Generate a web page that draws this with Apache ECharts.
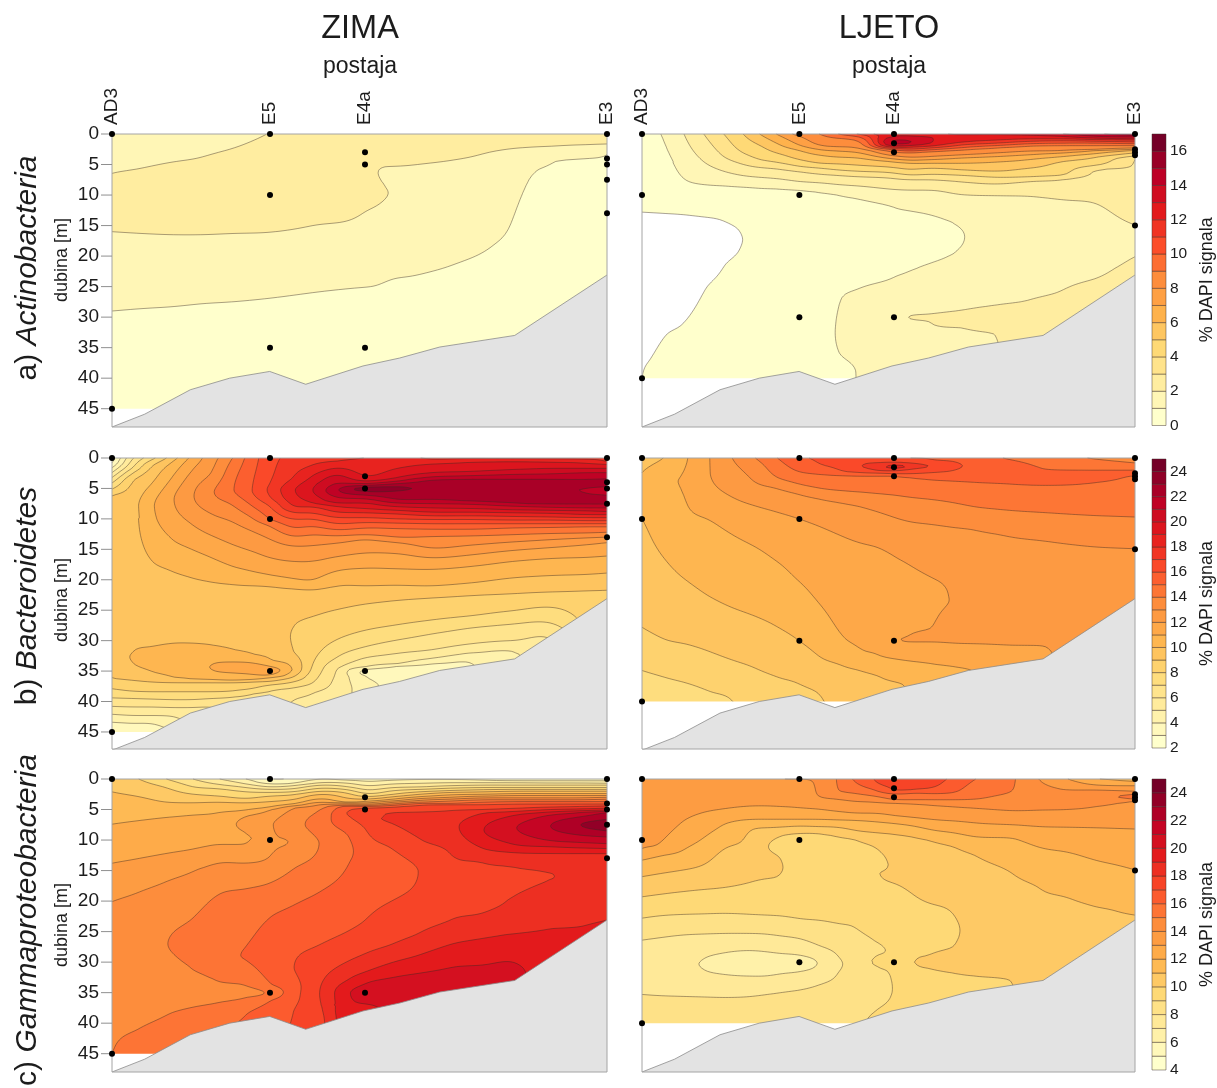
<!DOCTYPE html>
<html><head><meta charset="utf-8"><style>html,body{margin:0;background:#fff}#c{width:1217px;height:1088px}</style>
<script src="https://cdn.jsdelivr.net/npm/echarts@6/dist/echarts.min.js"></script></head><body><div id="c"></div>
<script>
const stationX=[0,158,253,495];
const stationNames=['AD3','E5','E4a','E3'];
const depthTicks=[0,5,10,15,20,25,30,35,40,45];
const terrain=[[0,48],[32.7,45.9],[78.3,41.9],[117.7,40],[157.7,38.9],[193.7,41],[251,38],[287.7,36.7],[327.7,34.9],[402.7,33],[495,23.1]];
const samplesWinter=[[0,0],[0,45],[158,0],[158,10],[158,35],[253,3],[253,5],[253,35],[495,0],[495,4],[495,5],[495,7.5],[495,13]];
const samplesSummer=[[0,0],[0,10],[0,40],[158,0],[158,10],[158,30],[253,0],[253,1.5],[253,3],[253,30],[495,0],[495,2.5],[495,3],[495,3.5],[495,15]];

// Profiles: station-line position, then depth/value pairs.
const actWinter=[
[0,[0,1.7,6.45,2,10,2.4,16,2,29,1,45,.5,48,.4]],
[30,[0,1.65,5.6,2,10,2.45,16.3,2,28.6,1,48,.4]],
[60,[0,1.6,4.6,2,10,2.5,16.5,2,28.3,1,48,.4]],
[90,[0,1.7,3.8,2,10,2.6,16.5,2,27.8,1,48,.4]],
[120,[0,1.8,2.4,2,9,2.7,16.3,2,27.5,1,48,.4]],
[158,[0,2.02,10,2.7,16.1,2,26.9,1,48,.4]],
[200,[0,2.3,8,2.7,15,2,26,1,48,.4]],
[253,[0,2.5,5,2.45,12.8,2,25.1,1,48,.4]],
[262,[0,2.45,5.5,2.01,9,2.3,12,2,25,1,48,.4]],
[270,[0,2.4,5.4,2,6.5,1.9,8,2,9.5,2.1,11.3,2,24.5,1,48,.4]],
[275,[0,2.35,5.35,2,7,1.8,9.7,2.01,12.5,1.8,24,1,48,.4]],
[300,[0,2.3,5.1,2,12,1.6,23.3,1,48,.4]],
[340,[0,2.3,4.3,2,12,1.5,21.5,1,48,.4]],
[380,[0,2.3,2.9,2,12,1.4,18.4,1,48,.4]],
[400,[0,2.3,2.4,2,8,1.3,14.3,1,48,.4]],
[415,[0,2.3,2.2,2,6,1.1,7.5,1,20,.7,48,.4]],
[440,[0,2.3,2,2,4.5,1,48,.4]],
[495,[0,2.3,1.65,2,3.3,1,48,.5]]];
const actSummer=[
[0,[0,.7,8,.5,12.8,0,20,-.5,30,-.4,38,-.05,40,0,48,.1]],
[10,[0,.85,8,.55,12.9,0,22,-.5,30,-.3,36.8,0,40,.2,48,.2]],
[21,[0,1,6,.6,13,0,23,-.5,33.2,0,40,.3,48,.3]],
[42,[0,2,7.5,1,13.2,0,22,-.5,31.2,0,40,.4,48,.4]],
[62,[0,3,4.5,2,8.3,1,13.6,0,19,-.4,25.5,0,40,.5,48,.5]],
[82,[0,4,3.7,3,6.1,2,8.5,1,14.2,0,18,-.2,21.6,0,40,.55,48,.55]],
[100,[0,4.9,3,4,4.9,3,6.8,2,8.7,1,13,.3,16,0,17.3,-.05,18.7,0,24,.3,40,.6,48,.6]],
[118,[0,6,1.8,5,4.2,4,5.5,3,7.1,2,8.9,1,17,.4,40,.65,48,.65]],
[135,[0,7,1.5,6,3.1,5,4.6,4,5.7,3,7.3,2,9,1,25,.4,40,.7,48,.7]],
[158,[0,8.4,.4,8,1.8,7,2.7,6,4.2,5,5.3,4,6.2,3,7.8,2,9.2,1,20,.4,30,.4,40,.8,48,.8]],
[179,[0,9,1.9,8,2.6,7,3.5,6,4.8,5,5.6,4,6.6,3,8,2,9.6,1,20,.3,30,.5,40,.85,48,.85]],
[197,[0,10,.7,9,2.1,8,2.8,7,3.8,6,4.9,5,5.9,4,6.8,3,8.3,2,10,1,20,.4,27.2,1,32,1.1,35.7,1,39,.85,48,.85]],
[216,[0,11,.4,10,1,9,2.2,8,3,7,3.9,6,5.1,5,6.1,4,7,3,8.5,2,10.6,1,18,.3,25.5,1,32,1.4,39,1.01,48,1]],
[253.6,[0,12.9,.3,13,.9,14,1.3,14.4,1.75,14,2,13,2.2,12,2.4,11,2.6,10,3,9,3.6,8,4.1,7,4.6,6,5.5,5,6.4,4,7.3,3,9.1,2,12.1,1,17.5,.8,23.4,1,30,1.9,36,1.5,48,1.4]],
[266,[0,12.95,.4,13,1,14,1.3,14.2,1.6,14,1.9,13,2.2,12,2.5,11,2.8,10,3.1,9,3.8,8,4.3,7,4.8,6,5.8,5,6.7,4,7.5,3,9.2,2,12.5,1,17.5,.7,22.8,1,27,1.6,30,2,33,1.6,37,1.4,48,1.4]],
[289,[0,12.9,1.2,13.1,1.5,13,2,12,2.3,11,2.6,10,2.9,9,3.7,8,4.2,7,4.8,6,5.6,5,6.6,4,7.5,3,9.2,2,13.2,1,17.5,.6,21.2,1,25,1.6,29.5,2,30.1,2.05,30.7,2,33,1.9,36,1.6,48,1.5]],
[324,[0,13.1,1.3,12,1.75,11,2.2,10,2.6,9,3.4,8,3.9,7,4.8,6,5.9,5,6.8,4,7.9,3,10,2,16.8,1,25,1.7,28.8,2,31,2.3,31.8,2,36,1.8,48,1.8]],
[356,[0,13.1,1,12,1.5,11,1.9,10,2.3,9,3.1,8,3.7,7,4.6,6,6.1,5,7.1,4,8.2,3,10.1,2,18,1.4,25,1.8,28,2,31,2.5,32.9,2,48,1.8]],
[389,[0,13.4,.2,13,.8,12,1.2,11,1.6,10,2,9,2.8,8,3.4,7,4.2,6,5.6,5,7,4,7.8,3,10.2,2,18,1.5,27.2,2,32,2.6,48,2.6]],
[423,[0,14,.4,13,.8,12,1.1,11,1.5,10,1.9,9,2.7,8,3.1,7,3.7,6,4.5,5,6.7,4,7.5,3,10.8,2,20,1.5,25.6,2,30,2.5,48,2.6]],
[457,[0,14.8,.4,14,.7,13,.9,12,1.2,11,1.5,10,1.9,9,2.5,8,2.7,7,3.2,6,3.8,5,5.1,4,5.9,3,11.4,2,20,1.5,23.6,2,27,2.6,48,2.6]],
[495,[0,15.9,.2,15,.5,14,.8,13,1,12,1.3,11,1.6,10,1.9,9,2.3,8,2.5,7,2.7,6,3.1,5,3.6,4,4.2,3,8,2.8,14.9,2,17.6,1.5,20.1,2,23.1,2.5,48,2.5]]];
const bacWinter=[
[0,[0,2.5,.8,3,1.6,4,2.4,5,3.2,6,4.1,7,5.1,8,6.2,9,13,9.8,25,9.6,36.1,9,37.9,8,39.4,7,40.8,6,42.1,5,43.4,4,45,3.3,48,2.8]],
[20,[0,5.9,1.6,7,2.5,8,3.8,9,8,9.6,15,9.7,25,9.8,31.6,10,32.7,10.1,33.7,10,36.5,9,38.3,8,39.5,7,40.9,6,42.3,5,43.6,4,48,2.8]],
[40,[0,7.7,1.3,9,4.3,10,7.9,10.9,17,10,24,9.6,31,10,33,10.3,35.1,10,36.8,9,38.4,8,39.6,7,40.9,6,42.3,5,43.6,4,48,2.8]],
[60,[0,9.5,.7,10,3.2,11,6.8,11.9,13.4,11,18.6,10,24,9.7,30.4,10,33,10.4,36,10,36.9,9,38.4,8,39.7,7,41,6,42.4,5,48,3]],
[80,[0,11.3,1.9,12,6.3,12.9,10.9,12,15,11,19.7,10,25,9.7,30.4,10,33,10.5,36.3,10,36.9,9,38.4,8,39.7,7,41,6,48,4]],
[100,[0,12.6,2.4,13,5.7,13.9,9.3,13,12.8,12,16.4,11,20.4,10,25,9.7,30.7,10,33.8,11,34.4,11.1,34.9,11,36.4,10,36.9,9,38.4,8,39.5,7,40.9,6,48,4]],
[120,[0,13.9,.2,14,5.2,14.9,7.6,14,10.4,13,14.2,12,17.8,11,20.8,10,26,9.7,31.4,10,33.5,11,34.3,11.4,35.3,11,36.5,10,36.9,9,38.3,8,39.3,7,48,5]],
[140,[0,15.6,5.4,15.97,7.9,15,9.8,14,12,13,15.3,12,18.6,11,21,10,27,9.7,32.2,10,33.6,11,34.4,11.5,35.5,11,36.4,10,36.8,9,37.9,8,38.7,7,48,6]],
[158,[0,16.6,4.1,17,5.2,17.2,6.3,17,7.9,16,10,15,11.2,14,13.3,13,16.4,12,19.2,11,21.1,10,27,9.6,33.1,10,34.2,11,34.9,11.6,35.7,11,36.1,10,36.7,9,37.3,8,38.3,7,48,6]],
[181,[0,17.4,3.2,18,5.3,18.9,8,18,9,17,10.1,16,11.5,15,12.9,14,14.5,13,17,12,19.8,11,21.5,10,24,9.5,27.5,9,29.4,8.9,31.6,9,34.7,9.95,36,9,36.8,8,37.8,7,39.7,6,48,5]],
[200,[0,17.7,1.2,18,3,19,5.2,19.9,7.3,19,8,18,9,17,10,16,11.2,15,12.6,14,14.4,13,17,12,20.1,11,21.7,10,26.1,9,34,8,37,7,38.7,6,48,5]],
[225,[0,17.9,.5,18,1.6,19,2.7,20,4.1,21,5.3,21.9,6.5,21,7.4,20,8,19,8.9,18,9.8,17,10.8,16,11.8,15,12.8,14,14,13,16.2,12,18.5,11,21,10,24.9,9,29.8,8,32.7,7,34.9,6,40,5.5,48,5.5]],
[253,[0,18,.2,18.05,3,19,3.8,20,4.2,21,4.5,22,4.8,23,5.1,23.6,5.5,23,6.1,22,6.7,21,7.4,20,8.3,19,9,18,9.8,17,10.6,16,11.5,15,12.6,14,13.4,13,15.6,12,18.1,11,21,10,24,9,28.3,8,31,7,32.8,6,34.3,5,34.7,4,35.3,3.7,35.9,4,38,4.5,48,4.5]],
[285,[0,18.2,1.7,19,3.2,20,3.8,21,4.2,22,4.7,23,5,23.2,5.4,23,6.8,22,7.4,21,8,20,8.6,19,9.2,18,10,17,10.7,16,11.6,15,13,14,13.9,13,15.7,12,18.2,11,20.9,10,23.4,9,27.4,8,29.9,7,32.1,6,33.8,5,34.2,4,35.2,3.6,48,3.6]],
[320,[0,17.9,.2,18,1,19,2.4,20,3.1,21,3.6,22,5.4,22.8,6.8,22,7.5,21,8.2,20,8.9,19,9.5,18,10.1,17,10.8,16,11.7,15,12.9,14,14.8,13,16.4,12,18.3,11,21,10,23,9,26.6,8,28.9,7,31.5,6,32.9,5,33.8,4,34.9,3.6,48,3.6]],
[360,[0,17.9,.1,18,.7,19,2.2,20,2.9,21,3.5,22,5.4,22.7,7.1,22,7.6,21,8.3,20,8.9,19,9.5,18,10.1,17,10.8,16,11.7,15,12.8,14,14.3,13,15.9,12,17.8,11,20.5,10,22.6,9,25.9,8,27.9,7,30.5,6,32,5,33.6,4,48,3.6]],
[400,[0,17.8,.1,18,.6,19,1.9,20,2.7,21,3.5,22,5.2,22.6,7.4,22,7.9,21,8.5,20,9,19,9.6,18,10.2,17,10.8,16,11.5,15,12.6,14,13.8,13,15.2,12,17,11,19.7,10,22.3,9,25.1,8,27.3,7,30,6,31.7,5,48,4]],
[440,[0,17.7,.1,18,.7,19,1.7,20,2.6,21,3.5,22,4.3,22.4,5.4,22.5,7.6,22,8.1,21,8.6,20,9.1,19,9.7,18,10.2,17,10.8,16,11.4,15,12.4,14,13.4,13,14.7,12,16.5,11,19.3,10,22,9,24.5,8,27.1,7,29.8,6,48,5]],
[478,[0,17.7,.2,18,.9,19,1.7,20,2.4,21,3.5,22,4.2,22.3,4.9,22,5.3,21.8,5.9,22,6.7,22.3,7.6,22,8.2,21,8.7,20,9.3,19,9.8,18,10.3,17,10.8,16,11.3,15,12.3,14,13.1,13,14.2,12,16.3,11,19.1,10,21.8,9,48,7]],
[495,[0,17.7,.6,18,1.05,19,1.7,20,2.4,21,3.4,22,4,22.3,4.7,22,5.4,21.6,6.1,22,7,22.3,7.6,22,8.2,21,8.8,20,9.3,19,9.8,18,10.3,17,10.8,16,11.3,15,12.2,14,13,13,13.9,12,16.1,11,18.9,10,21.7,9,48,8.5]]];
const bacSummer=[
[0,[0,9.5,2.4,10,6.3,10.6,10,10,20,9.5,27.8,9,34.9,8,40,7.4,48,7]],
[22,[0,10,4,10.9,10,10.5,16.4,10,29.8,9,36,8,40,7.6,48,7]],
[46,[0,11,3,11.1,7.6,11,20.3,10,30.6,9,37,8,40,7.7,48,7.4]],
[68,[0,12,2.4,12,6,11.7,10.1,11,22.8,10,31.8,9,38.4,8,48,7.4]],
[90.5,[0,13,3,12.6,6.4,12,12.6,11,24.6,10,33.2,9,39.5,8,48,7.5]],
[114,[0,14,1.5,13.5,4,13,7.9,12,14.6,11,26,10,34.6,9,48,8]],
[135.7,[0,15,3.2,14,5,13,8.9,12,17,11,27.7,10,36,9,48,8.5]],
[157.8,[0,15.8,2.3,15,4.3,14,6,13,10,12,20.3,11,30,10,37,9,48,8.5]],
[179,[0,16.2,1,16,2.7,15,5,14,6.8,13,11.3,12,24.1,11,32.8,10,38.7,9,48,8.5]],
[202.7,[0,16.7,2.2,16,2.9,15,5.4,14,7.5,13,13,12,29.6,11,34.2,10,40,9.5,48,9.5]],
[219.4,[0,16.9,1.3,16.98,2.4,16,3,15,5.6,14,8,13,14,12,31.6,11,34.9,10,39,9.6,48,9.5]],
[239.5,[0,16.9,.8,17,1.4,17.6,2.1,17,2.5,16,3,15,5.9,14,9,13,14.8,12,32.4,11,36,10,48,9.5]],
[253.6,[0,16.5,.7,17,1.1,18,1.4,18.6,1.8,18,2.1,17,2.6,16,3,15,6.1,14,9.8,13,16.2,12,24,11.6,30,11.9,33,11,36.8,10,48,9.5]],
[266,[0,16,.3,16.9,.8,17,1.1,17.6,1.4,17.9,1.9,17,2.6,16,3.2,15,6.4,14,10.4,13,17.3,12,25,11.6,29.4,12,29.8,12.1,30.2,12,31.5,11.5,33.3,11,37.3,10,48,9.8]],
[290,[0,15.9,.3,16,1.3,16.9,2.4,16,3.6,15,6.8,14,10.9,13,19.6,12,24,11.7,28,12,29,12.3,30.2,12,32,11.5,33.8,11,48,10.2]],
[311.5,[0,15.7,.5,16,1.3,16.3,2.1,16,3.8,15,7.3,14,11.4,13,23.3,12.05,27,12.5,30.4,12,34.2,11,48,10.5]],
[333,[0,15.4,1.3,15.7,4,15,8,14,11.8,13,20,12.6,28,12.6,30.5,12,34.9,11,48,10.5]],
[362,[0,15,1.9,15.5,4.2,15,8.5,14,12.7,13,23,12.6,30.7,12,33,11.5,48,11]],
[407,[0,14.6,1.9,15,3.3,15.4,4.5,15,9,14,13.7,13,25,12.5,31,12,48,11.5]],
[447,[0,14,2,15,3.3,15.3,4.2,15,9.4,14,14.5,13,26,12.5,48,12]],
[495,[0,13.5,.8,14,2,15,2.4,15.6,2.9,15,9.7,14,14.9,13,23,12.5,48,12]]];
const gamWinter=[
[0,[0,10.4,2.1,11,7.4,12,13.8,13,20.1,14,30,14.7,40,14.85,45,15,48,15.3]],
[27.7,[0,10,2.9,11,6.8,12,13,13,18.5,14,28,14.8,36,14.75,40.9,15,45,15.5,48,15.6]],
[54.3,[0,9,1.4,10,3.8,11,6.3,12,12.2,13,16.8,14,27,14.98,33,14.7,38.7,15,44,15.6,48,15.8]],
[81,[0,8,1.3,9,2.5,10,3.9,11,5.9,12,11.5,13,15.2,14,22.9,15,27,15.3,31.2,15,34.5,14.5,37.4,15,42,15.6,48,16]],
[107.7,[0,7,.9,8,1.6,9,2.8,10,3.8,11,5.5,12,10.7,13,13.7,14,18.7,15,27,15.7,33.3,15,35,14.3,36.6,15,41,15.9,48,16.2]],
[134.3,[0,6,.8,7,1.4,8,2.1,9,3.2,10,3.9,11,5.1,12,6.1,13,7.3,13.4,8.8,13,9.8,12.8,10.7,13,13.8,14,18,15,27.5,16,29,16.1,29.7,16,33.8,15,35.2,14.5,35.8,15,38.6,16,48,16.5]],
[158,[0,5,.6,5.5,.8,6,1.3,7,1.7,8,2.2,9,2.8,10,3.7,11,4.6,12,5.1,13,7.5,13.9,10,13.9,12.6,14,17.1,15,22.6,16,29,16.5,33.5,16,35,15.2,36.4,16,39,16.5,48,17]],
[181,[0,5.1,.7,6,1.1,7,1.6,8,2.1,9,2.6,10,3.4,11,4.1,12,4.4,13,4.8,14,7.5,14.6,10.3,14.02,14.7,15,20.7,16,30.8,16.98,34.6,16.6,38.2,17,48,17.2]],
[207.7,[0,6,.6,7,1,8,1.5,9,2,10,2.5,11,3.2,12,3.8,13,4.2,14,5.2,15,7.3,15.5,10.6,15.05,18.5,16,27.2,17,35.2,17.98,40,17.6,48,17.6]],
[237.7,[0,5.6,.2,6,.7,7,1.3,8,1.8,9,2.4,10,3.2,11,3.8,12,3.9,13,4.1,14,4.3,15,4.4,16,5,17,5.6,17.2,6.3,17,9.5,16,11.7,15.8,13.8,16,24.8,17,29.7,18,32.7,19,35.1,19.98,38,19.8,48,19.5]],
[253,[0,5.6,.4,6,1.1,7,1.8,8,2.4,9,2.9,10,3.3,11,3.7,12,3.9,13,4.2,14,4.3,15,4.5,16,4.8,17,5.4,17.5,8.3,17,13,16.5,23.1,17,28.6,18,31.6,19,33.5,20,35.1,20.6,36.8,20,38.2,19,48,18.5]],
[281,[0,5.8,.2,6,.8,7,1.4,8,1.9,9,2.5,10,2.9,11,3.3,12,3.6,13,3.8,14,4.1,15,4.3,16,4.6,17,5.5,18,6.5,18.3,7.4,18,11.4,17,15,16.6,19.9,17,27,18,30,19,32.5,20,34.1,20.6,48,20.6]],
[307.7,[0,5.9,.1,6,.7,7,1.3,8,1.7,9,2.1,10,2.5,11,2.9,12,3.2,13,3.5,14,3.8,15,4,16,4.3,17,5.4,18,7.3,18.4,9.9,18,15.2,17.02,25.2,18,28.8,19,31.8,20,34.6,20.7,48,20.7]],
[337.7,[0,5.9,.1,6,.6,7,1.1,8,1.5,9,1.9,10,2.2,11,2.6,12,3,13,3.3,14,3.6,15,4,16,4.2,17,5.2,18,7.5,18.7,12.1,18,18,17.7,23.1,18,27.1,19,30.9,20,35,20.5,48,20.5]],
[371,[0,5.8,.2,6,.6,7,1,8,1.4,9,1.75,10,2.1,11,2.5,12,2.8,13,3.1,14,3.4,15,3.8,16,4.2,17,5,18,5.6,19,8.4,19.98,11.4,19,13.7,18,20,17.8,22,18,26.1,19,30.5,20,33,20.4,48,20.4]],
[404,[0,5.6,.3,6,.6,7,1,8,1.4,9,1.7,10,2,11,2.4,12,2.7,13,3.1,14,3.4,15,3.7,16,4.1,17,4.8,18,5.3,19,5.9,20,8,20.98,10.8,20,12.1,19,14.5,18,17,17.9,19,18,25.3,19,30,20,32,20.3,48,20.3]],
[438,[0,5.5,.3,6,.65,7,1,8,1.4,9,1.7,10,2,11,2.4,12,2.7,13,3.1,14,3.4,15,3.7,16,4.1,17,4.6,18,5,19,5.4,20,5.9,21,7.7,21.98,10.1,21,11.1,20,12.2,19,15.3,18,15.9,17.9,16.6,18,23,18.7,24.5,19,48,19.5]],
[468,[0,5.5,.3,6,.65,7,1,8,1.4,9,1.7,10,2,11,2.4,12,2.7,13,3.1,14,3.4,15,3.7,16,4.1,17,4.5,18,4.9,19,5.2,20,5.5,21,6.2,22,7.5,22.98,9.2,22,10.4,21,11.3,20,12.2,19,17,18.5,22.5,18.9,24.2,19,48,19.5]],
[495,[0,5.5,.3,6,.7,7,1,8,1.4,9,1.7,10,2,11,2.4,12,2.7,13,3,14,3.3,15,3.7,16,4.1,17,4.4,18,4.8,19,5.1,20,5.3,21,5.5,22,6.6,23,7.5,23.8,8.5,23,9.5,22,10.6,21,11.4,20,12.2,19,17.7,18.5,23.1,19,48,19.5]]];
const gamSummer=[
[0,[0,13.6,11.4,13,13.3,12,16,11,19.3,10,22.8,9,26.4,8,31,7.6,35.3,8,38,8.5,40,8.8,48,9]],
[18,[0,13.6,10.8,13,12.6,12,15.5,11,18.9,10,22.4,9,26,8,31,7.5,35.5,8,40,8.7,48,9]],
[38,[0,13.5,7.3,13,11.9,12,15,11,18.5,10,22.2,9,25.6,8,30.5,7.4,35.6,8,40,8.7,48,9]],
[61.7,[0,13.7,5.5,13,9.7,12,14.1,11,18.1,10,22.1,9,25.4,8,29.4,7,30.3,6.9,31.3,7,35.7,8,40,8.7,48,9]],
[81.7,[0,13.8,4.9,13,7.5,12,11.4,11,17.8,10,22,9,25.3,8,28.5,7,30.2,6.7,32,7,35.8,8,40,8.7,48,9]],
[112,[0,13.9,4.4,13,6.6,12,8.1,11,12,10.6,16.8,10,22.2,9,25.3,8,28.1,7,30.2,6.5,32.3,7,35.6,8,39,8.6,48,9]],
[125,[0,13.9,4.4,13,6.6,12,8,11,11.1,10.02,14,10.5,16.3,10,22.3,9,25.4,8,28.3,7,30.2,6.5,32.3,7,35.3,8,39,8.6,48,9]],
[138.7,[0,14,4.5,13,6.6,12,7.9,11,9.3,10,11,9.7,13,10,14.5,10.1,15.9,10,22.4,9,25.7,8,28.6,7,30.2,6.6,31.9,7,35,8,39,8.5,48,9]],
[158,[0,14,4.7,13,6.6,12,7.7,11,8.9,10,12,9.5,18,9.5,22.9,9,26.1,8,28.8,7,30.2,6.6,31.6,7,34.6,8,38,8.5,48,9]],
[176,[0,14.05,2.6,14,4.9,13,6.6,12,7.8,11,8.9,10,18,9.4,23.1,9,27.2,8,29.8,7.02,30.15,6.98,30.6,7.02,33.8,8,38,8.5,48,8.8]],
[196,[0,15.05,1.8,15,3.3,14,5.3,13,6.7,12,7.9,11,9.4,10,18,9.3,23.7,9,28.9,8,30.3,7.8,31.9,8,38,8.5,48,8.8]],
[216,[0,16.3,.7,16,2.4,15,3.7,14,5.6,13,6.8,12,8.5,11,10,10,18,9.2,24.5,9,31,8.5,36,8.6,48,8.8]],
[234,[0,17.05,.4,17,1.8,16,2.8,15,3.8,14,5.6,13,7,12,8.8,11,11.1,10,14,9.5,15.5,9.95,20,9.5,26.4,9,28,8.8,28.9,9,30,9.1,30.8,9,34,8.6,37.9,9,40,9.3,48,9.5]],
[253.6,[0,17.6,1.9,17,2.5,16,3.4,15,4,14,6,13,7.3,12,9.1,11,17.1,10,24,9.6,30,9.1,34.6,9.05,38,9.2,48,9.5]],
[272.7,[0,17.7,1.7,17,2.3,16,3.4,15,4.1,14,6.3,13,7.7,12,9.5,11,19,10,26,9.8,29.5,10,30,10.05,30.4,10,34,9.7,38,9.5,48,9.5]],
[289,[0,17.6,1.5,17,2.4,16,3.4,15,4.3,14,6.6,13,8.3,12,10.1,11,20.4,10,25,9.8,28.9,10,30,10.2,31,10,36,9.6,48,9.6]],
[316,[0,16.6,2.1,16,3.4,15,4.6,14,6.9,13,8.9,12,11.3,11,22.6,10,25,9.9,27.2,10,30,10.5,31.9,10,36,9.7,48,9.6]],
[334.7,[0,16,1.5,15.6,3.3,15,4.8,14,7.2,13,9.5,12,12.6,11,23,10.4,30,10.6,32.3,10,35,9.8,48,9.8]],
[373,[0,15.1,1.8,15,5.2,14,7.5,13,9.7,12,15.6,11,25,10.7,30,10.7,33.1,10,48,9.8]],
[398,[0,14,3,14.5,5.1,14,7.8,13,11.2,12,17.8,11,30,10.8,33,10.6,48,10.5]],
[428,[0,13,1.8,14,3.4,14.6,5,14,7.9,13,12,12,19.4,11,25,10.8,48,10.5]],
[457,[0,12,1,13,1.8,14,3.2,14.7,4.5,14,8,13,13.4,12,21,11,25,10.8,48,10.5]],
[477,[0,11.9,.2,12,1.1,13,1.9,14,2.9,14.98,4,14,8.1,13,14.1,12,21.7,11,48,10.5]],
[495,[0,11.6,.4,12,1.1,13,2,14,2.5,15,2.9,15.4,3.3,15,3.6,14,8.2,13,14.9,12,22.3,11,48,10.5]]];

const rowRanges=[[0,17],[2,25],[4,25]];
const barTicks=[[0,2,4,6,8,10,12,14,16],[2,4,6,8,10,12,14,16,18,20,22,24],[4,6,8,10,12,14,16,18,20,22,24]];
const rowTitles=[['a) ','Actinobacteria'],['b) ','Bacteroidetes'],['c) ','Gammaproteobacteria']];
const FONT='"Liberation Sans",Arial,sans-serif';
const TEXT='#1c1c1c';
const stops=['#ffffcc','#ffeda0','#fed976','#feb24c','#fd8d3c','#fc4e2a','#e31a1c','#bd0026','#750028'];
function hex(c){return [1,3,5].map(i=>parseInt(c.substr(i,2),16));}
function ramp(t){t=Math.max(0,Math.min(1,t))*(stops.length-1);const i=Math.min(stops.length-2,Math.floor(t)),f=t-i,a=hex(stops[i]),b=hex(stops[i+1]);
 return 'rgb('+a.map((v,k)=>Math.round(v+(b[k]-v)*f)).join(',')+')';}
function hermite(xs,ys,rounded){const n=xs.length,h=[],d=[],m=new Array(n);
 for(let i=0;i<n-1;i++){h[i]=xs[i+1]-xs[i];d[i]=(ys[i+1]-ys[i])/h[i];}
 m[0]=d[0];m[n-1]=d[n-2];
 for(let i=1;i<n-1;i++){
  if(rounded){let g=(d[i-1]*h[i]+d[i]*h[i-1])/(h[i]+h[i-1]);
   if(d[i-1]*d[i]>0){const lim=3*Math.min(Math.abs(d[i-1]),Math.abs(d[i]));if(Math.abs(g)>lim)g=Math.sign(g)*lim;}
   m[i]=g;}
  else if(d[i-1]*d[i]<=0)m[i]=0;
  else{const a=2*h[i]+h[i-1],b=h[i]+2*h[i-1];m[i]=(a+b)/(a/d[i-1]+b/d[i]);}}
 return t=>{if(t<=xs[0])return ys[0];if(t>=xs[n-1])return ys[n-1];
  let lo=0,hi=n-1;while(hi-lo>1){const c=(lo+hi)>>1;if(xs[c]<=t)lo=c;else hi=c;}const i=lo;
  const s=(t-xs[i])/h[i],s2=s*s,s3=s2*s;
  return (2*s3-3*s2+1)*ys[i]+(s3-2*s2+s)*h[i]*m[i]+(-2*s3+3*s2)*ys[i+1]+(s3-s2)*h[i]*m[i+1];};}
const NX=166,NY=193,XS=[],DS=[];
for(let i=0;i<NX;i++)XS.push(i*3);
for(let j=0;j<NY;j++)DS.push(j*.25);
function buildField(profiles){
 const cols=profiles.map(p=>{const ds=[],vs=[];for(let k=0;k<p[1].length;k+=2){if(!ds.length||p[1][k]>ds[ds.length-1]){ds.push(p[1][k]);vs.push(p[1][k+1]);}}
   const f=hermite(ds,vs,false);return DS.map(f);});
 const px=profiles.map(p=>p[0]),F=[];
 for(let j=0;j<NY;j++){const f=hermite(px,cols.map(c=>c[j]),true);let row=XS.map(f);
  for(let s=0;s<8;s++){const r=row.slice();for(let i=1;i<NX-1;i++)r[i]=(row[i-1]+2*row[i]+row[i+1])/4;row=r;}
  F.push(row);}
 return F;}
function r2(v){return Math.round(v*100)/100;}
function paths(F,L,PX,PY){let fill='',line='';
 for(let j=0;j<NY-3;j++){const a=F[j],b=F[j+1],y0=PY[j],y1=PY[j+1];let run=-1;
  for(let i=0;i<NX-1;i++){const q=[a[i],a[i+1],b[i+1],b[i]];
   const full=q[0]>=L&&q[1]>=L&&q[2]>=L&&q[3]>=L;
   if(full){if(run<0)run=i;continue;}
   if(run>=0){fill+='M'+PX[run]+' '+y0+'L'+PX[i]+' '+y0+'L'+PX[i]+' '+y1+'L'+PX[run]+' '+y1+'Z';run=-1;}
   if(q[0]<L&&q[1]<L&&q[2]<L&&q[3]<L)continue;
   const cx=[PX[i],PX[i+1],PX[i+1],PX[i]],cy=[y0,y0,y1,y1],poly=[],cross=[];
   for(let k=0;k<4;k++){const n=(k+1)%4,ka=q[k]>=L,na=q[n]>=L;
    if(ka)poly.push([cx[k],cy[k]]);
    if(ka!==na){const t=(L-q[k])/(q[n]-q[k]),p=[r2(cx[k]+(cx[n]-cx[k])*t),r2(cy[k]+(cy[n]-cy[k])*t)];poly.push(p);cross.push(p);}}
   fill+='M'+poly.map(p=>p[0]+' '+p[1]).join('L')+'Z';
   for(let k=0;k+1<cross.length;k+=2)line+='M'+cross[k][0]+' '+cross[k][1]+'L'+cross[k+1][0]+' '+cross[k+1][1];
  }
  if(run>=0)fill+='M'+PX[run]+' '+y0+'L'+PX[NX-1]+' '+y0+'L'+PX[NX-1]+' '+y1+'L'+PX[run]+' '+y1+'Z';
 }
 return {fill,line};}

const leftX=[112,642],widths=[495,493],topY=[134,458,779],heights=[293,291,293],maxD=[48,47.8,48];
const panels=[[actWinter,actSummer],[bacWinter,bacSummer],[gamWinter,gamSummer]];
const grid=[],xAxis=[],yAxis=[],series=[],graphic=[];
let gi=0;
for(let r=0;r<3;r++)for(let c=0;c<2;c++){
 grid.push({left:leftX[c],top:topY[r],width:widths[c],height:heights[r]});
 xAxis.push({gridIndex:gi,type:'value',min:0,max:495,position:'top',axisLine:{show:false},axisTick:{show:false},splitLine:{show:false},
  axisLabel:r===0?{show:true,customValues:stationX,formatter:v=>stationNames[stationX.indexOf(v)],rotate:90,fontSize:19,fontFamily:FONT,color:TEXT,margin:9}:{show:false}});
 yAxis.push({gridIndex:gi,type:'value',inverse:true,min:0,max:maxD[r],axisLine:{show:false},splitLine:{show:false},axisTick:{show:false},
  axisLabel:c===0?{show:true,customValues:depthTicks,fontSize:19,fontFamily:FONT,color:TEXT,margin:13}:{show:false}});
 const F=buildField(panels[r][c]),lo=rowRanges[r][0],hi=rowRanges[r][1],levels=[];
 for(let L=lo;L<hi;L++)levels.push([L]);
 let PX=null,PY=null;
 series.push({type:'custom',xAxisIndex:gi,yAxisIndex:gi,z:2,silent:true,animation:false,data:levels,
  renderItem(p,api){const L=api.value(0);
   if(!PX){PX=XS.map(x=>r2(api.coord([x,0])[0]));PY=DS.map(d=>r2(api.coord([0,Math.min(d,maxD[r])])[1]));}
   const s=paths(F,L,PX,PY);
   return {type:'group',children:[
    {type:'path',z2:L-lo,shape:{pathData:s.fill||'M0 0'},style:{fill:ramp((L-lo)/(hi-lo-1)),stroke:null}},
    {type:'path',z2:200,shape:{pathData:s.line||'M0 0'},style:{fill:null,stroke:'rgba(55,40,35,.62)',lineWidth:.7}}]};}});
 const blank=c===0?45:40;
 series.push({type:'line',xAxisIndex:gi,yAxisIndex:gi,z:3,silent:true,animation:false,showSymbol:false,data:[[0,blank],[495,blank]],lineStyle:{opacity:0,width:0},areaStyle:{color:'#fff',opacity:1,origin:'end'}});
 series.push({type:'line',xAxisIndex:gi,yAxisIndex:gi,z:4,silent:true,animation:false,showSymbol:false,data:terrain,lineStyle:{color:'#8c8c8c',width:.8},areaStyle:{color:'#e3e3e3',opacity:1,origin:'end'}});
 series.push({type:'custom',xAxisIndex:gi,yAxisIndex:gi,z:5,silent:true,animation:false,data:[[0,0]],
  renderItem(p,api){const a=api.coord([0,0]),b=api.coord([495,maxD[r]]);
   return {type:'rect',shape:{x:a[0],y:a[1],width:b[0]-a[0],height:b[1]-a[1]},style:{fill:null,stroke:'#a4a4a4',lineWidth:1}};}});
 if(c===0)series.push({type:'scatter',xAxisIndex:gi,yAxisIndex:gi,z:5,silent:true,animation:false,clip:false,symbol:'rect',symbolSize:[11,1],symbolOffset:[-5.5,0],itemStyle:{color:'#8f8f8f',opacity:1},data:depthTicks.map(d=>[0,d])});
 series.push({type:'scatter',xAxisIndex:gi,yAxisIndex:gi,z:6,silent:true,animation:false,symbolSize:6,itemStyle:{color:'#000',opacity:1},clip:false,data:c===0?samplesWinter:samplesSummer});
 gi++;
}
const barTop=[134,459,779],barH=[291.5,289,291];
for(let r=0;r<3;r++){
 const lo=rowRanges[r][0],hi=rowRanges[r][1],levels=[];
 for(let L=lo;L<hi;L++)levels.push([0,L]);
 grid.push({left:1152,top:barTop[r],width:18,height:barH[r]});
 xAxis.push({gridIndex:gi,type:'value',min:0,max:1,show:false});
 yAxis.push({gridIndex:gi,type:'value',min:lo,max:hi,position:'right',axisLine:{show:false},axisTick:{show:false},splitLine:{show:false},
  axisLabel:{customValues:barTicks[r],fontSize:15.5,fontFamily:FONT,color:TEXT,margin:4},
  name:'% DAPI signala',nameLocation:'middle',nameRotate:90,nameGap:32,nameTextStyle:{fontSize:18,fontFamily:FONT,color:TEXT}});
 series.push({type:'custom',xAxisIndex:gi,yAxisIndex:gi,silent:true,animation:false,data:levels,
  renderItem(p,api){const L=api.value(1),a=api.coord([0,L+1]),b=api.coord([1,L]);
   return {type:'rect',shape:{x:a[0],y:a[1],width:b[0]-a[0],height:b[1]-a[1]},style:{fill:ramp((L-lo)/(hi-lo-1)),stroke:'rgba(60,45,40,.65)',lineWidth:.7}};}});
 gi++;
}
function label(text,x,y,size,rot,rich){graphic.push({type:'text',x,y,rotation:rot||0,silent:true,style:{text,align:'center',verticalAlign:'middle',fontSize:size,fontFamily:FONT,fill:TEXT,rich}});}
label('ZIMA',360,29,32.5);label('LJETO',889,29,32.5);
label('postaja',360,67,23);label('postaja',889,67,23);
const nameY=[260,600,925],titleY=[268,596,920];
for(let r=0;r<3;r++){
 label('dubina [m]',62,nameY[r],18,Math.PI/2);
 label('{u|'+rowTitles[r][0]+'}{i|'+rowTitles[r][1]+'}',28,titleY[r],30,Math.PI/2,{
  u:{fontSize:30,fontFamily:FONT,fill:TEXT},i:{fontSize:30,fontStyle:'italic',fontFamily:FONT,fill:TEXT}});
}
const chart=echarts.init(document.getElementById('c'),null,{renderer:'canvas',width:1217,height:1088});
chart.setOption({animation:false,backgroundColor:'#fff',tooltip:{show:false},grid,xAxis,yAxis,series,graphic});
</script></body></html>
